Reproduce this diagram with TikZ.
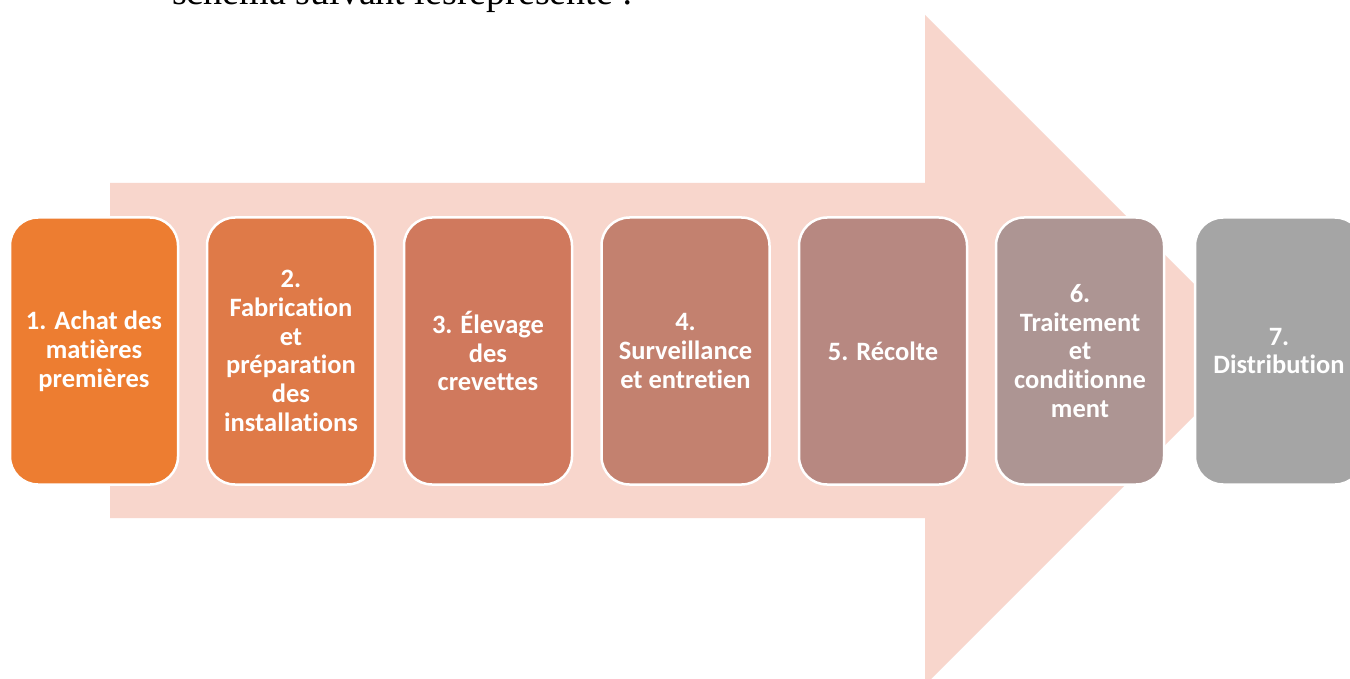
\documentclass[tikz,border=0pt]{standalone}
\usepackage{fontspec}
\setmainfont[Ligatures={NoCommon}]{Carlito}
\newfontfamily\serifbody{Liberation Serif}
\definecolor{arrowpink}{HTML}{F8D6CC}
\definecolor{cA}{HTML}{ED7D31}
\definecolor{cB}{HTML}{DF7A48}
\definecolor{cC}{HTML}{D0795D}
\definecolor{cD}{HTML}{C3816F}
\definecolor{cE}{HTML}{B78881}
\definecolor{cF}{HTML}{AD9593}
\definecolor{cG}{HTML}{A5A5A5}
\begin{document}
\begin{tikzpicture}[x=1pt,y=-1pt,
  stepbox/.style={draw=white, line width=2.5pt, rounded corners=28pt,
    minimum width=168pt, minimum height=267pt, inner sep=0pt,
    text=white, align=center, font=\fontsize{26.5}{28.8}\selectfont\bfseries},
  toptext/.style={anchor=base west, inner sep=0pt, font=\serifbody\fontsize{38}{40}\selectfont}]
\clip (0,0) rectangle (1350,679);
\fill[white] (0,0) rectangle (1350,679);
% big background arrow
\fill[arrowpink] (110,183) -- (925,183) -- (925,15) -- (1260,350) -- (925,685) -- (925,518) -- (110,518) -- cycle;
% clipped line of text at the top
\node[toptext] (head) at (172,5) {schéma suivant lesreprésente :};
% steps
\node[stepbox, fill=cA] (s1) at (94,351) {1. Achat des\\matières\\premières};
\node[stepbox, fill=cB] (s2) at (291,351) {2.\\Fabrication\\et\\préparation\\des\\installations};
\node[stepbox, fill=cC] (s3) at (488,351) {3. Élevage\\des\\crevettes};
\node[stepbox, fill=cD] (s4) at (685.5,351) {4.\\Surveillance\\et entretien};
\node[stepbox, fill=cE] (s5) at (883,351) {5. Récolte};
\node[stepbox, fill=cF] (s6) at (1080,351) {6.\\Traitement\\et\\conditionne\\ment};
\node[stepbox, fill=cG] (s7) at (1279,351) {7.\\Distribution};
\end{tikzpicture}
\end{document}
